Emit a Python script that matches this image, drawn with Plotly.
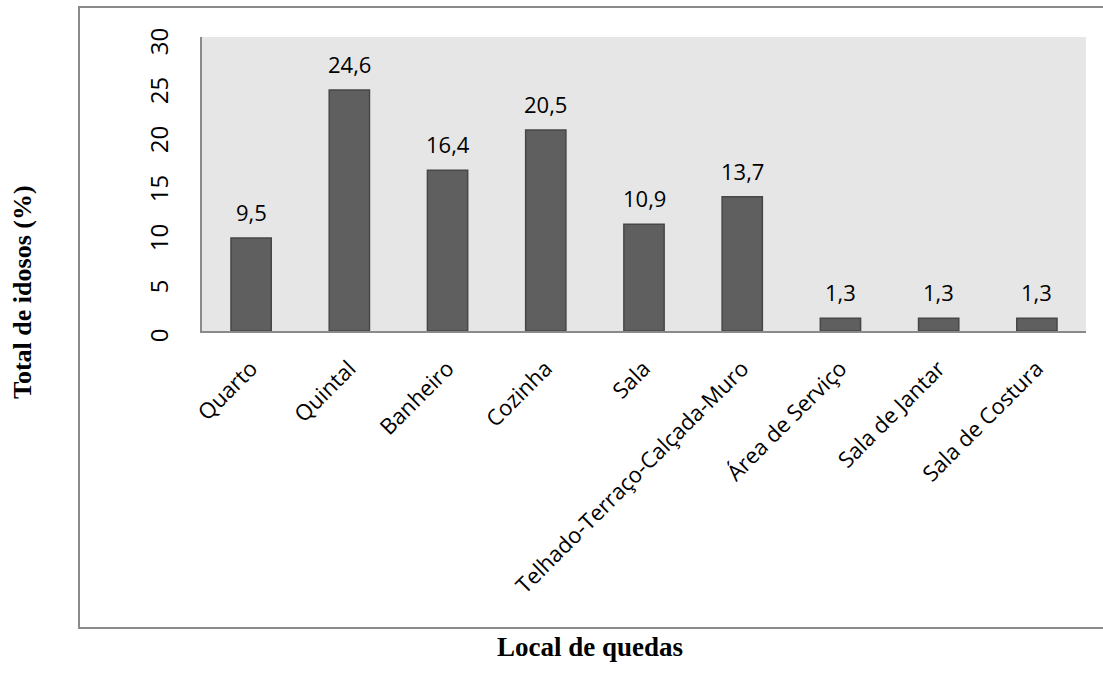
import plotly.graph_objects as go

categories = ["Quarto", "Quintal", "Banheiro", "Cozinha", "Sala",
              "Telhado-Terraço-Calçada-Muro", "Área de Serviço",
              "Sala de Jantar", "Sala de Costura"]
values = [9.5, 24.6, 16.4, 20.5, 10.9, 13.7, 1.3, 1.3, 1.3]
y_ticks = [0, 5, 10, 15, 20, 25, 30]

W, H = 1103, 682
L, R, T, B = 202, 1086, 37, 331
fig = go.Figure()
fig.add_trace(go.Bar(
    x=categories, y=values,
    marker=dict(color="#5f5f5f", line=dict(color="#474747", width=1.5)),
    width=0.41,
))

for c, v in zip(categories, values):
    fig.add_annotation(x=c, y=v, text=f"{v:.1f}".replace(".", ","),
                       showarrow=False, yanchor="bottom", yshift=9,
                       font=dict(family="Open Sans", size=22, color="black"))

def px_x(p):
    return (p - L) / (R - L)

def px_y(p):
    return (B - p) / (B - T)

# outer chart border
fig.add_shape(type="rect", xref="paper", yref="paper",
              x0=px_x(79), x1=px_x(1130), y0=px_y(628), y1=px_y(7),
              line=dict(color="#8a8a8a", width=2), fillcolor="rgba(0,0,0,0)",
              layer="below")

fig.add_annotation(xref="paper", yref="paper", x=px_x(22), y=px_y(292),
                   xanchor="center", yanchor="middle",
                   text="<b>Total de idosos (%)</b>", textangle=-90, showarrow=False,
                   font=dict(family="Liberation Serif", size=26, color="black"))
fig.add_annotation(xref="paper", yref="paper", x=px_x(590), y=px_y(647),
                   xanchor="center", yanchor="middle",
                   text="<b>Local de quedas</b>", showarrow=False,
                   font=dict(family="Liberation Serif", size=27, color="black"))

fig.update_layout(
    width=W, height=H,
    margin=dict(l=L, r=W - R, t=T, b=H - B, autoexpand=False),
    plot_bgcolor="#e6e6e6", paper_bgcolor="white",
    showlegend=False,
    font=dict(family="Open Sans", size=21, color="black"),
    xaxis=dict(tickangle=-45, showline=True, linecolor="#8a8a8a", linewidth=2,
               ticks="", showgrid=False, ticklabelstandoff=14,
               tickfont=dict(family="Open Sans", size=22, color="black")),
    yaxis=dict(range=[0, 30], tickvals=y_ticks, tickangle=-90, showline=True,
               linecolor="#8a8a8a", linewidth=2, ticks="", showgrid=False,
               zeroline=False, ticklabelstandoff=22, ticklabelshift=8,
               tickfont=dict(family="Open Sans", size=24, color="black")),
)

fig.write_html("out.html")
